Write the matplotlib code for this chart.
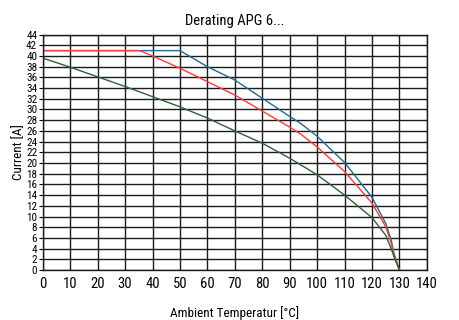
import matplotlib
matplotlib.use('Agg')
import matplotlib.pyplot as plt

plt.rcParams['font.family'] = ['Roboto Condensed', 'DejaVu Sans']

# derating curves
blue_x = [0, 50, 60, 70, 80, 90, 94, 100, 110, 120, 125, 127, 128, 130]
blue_y = [41, 41, 38.0, 35.5, 32.1, 28.7, 27.4, 25.0, 20.1, 13.6, 8.7, 5.6, 3.1, 0]

red_x = [0, 35.2, 40, 50, 60, 70, 80, 90, 94, 100, 110, 120, 125, 127, 128, 130]
red_y = [41, 41, 40.0, 37.7, 35.2, 32.7, 29.7, 26.7, 25.4, 23.0, 18.4, 12.5, 8.1, 5.0, 2.8, 0]

green_x = [0, 10, 20, 30, 40, 50, 60, 70, 80, 90, 100, 110, 120, 125, 127, 128, 130]
green_y = [39.6, 37.9, 36.1, 34.3, 32.4, 30.5, 28.4, 26.0, 23.7, 20.9, 17.8, 14.0, 9.8, 6.5, 4.0, 2.5, 0]

x_ticks = list(range(0, 141, 10))
y_ticks = list(range(0, 45, 2))

fig = plt.figure(figsize=(4.6, 3.2), dpi=100)
ax = fig.add_axes([0.093, 0.156, 0.835, 0.736])

ax.plot(blue_x, blue_y, color='#1d6a94', lw=1.0)
ax.plot(red_x, red_y, color='#ff3b3b', lw=1.0)
ax.plot(green_x, green_y, color='#2c6236', lw=1.0)

ax.set_xlim(0, 140)
ax.set_ylim(0, 44)
ax.set_xticks(x_ticks)
ax.set_yticks(y_ticks)
ax.grid(True, color='#1a1a1a', lw=1.0)
ax.set_axisbelow(True)
for s in ax.spines.values():
    s.set_color('#1a1a1a')
    s.set_linewidth(1.0)

ax.tick_params(axis='x', length=0, labelsize=10.5, pad=5)
ax.tick_params(axis='y', length=3, labelsize=8, pad=1)

ax.set_title('Derating APG 6...', fontsize=10.5, pad=7)
ax.set_xlabel('Ambient Temperatur [°C]', fontsize=9.5, labelpad=11)
ax.set_ylabel('Current [A]', fontsize=9.5, labelpad=1)

fig.savefig('out.png', dpi=100)
